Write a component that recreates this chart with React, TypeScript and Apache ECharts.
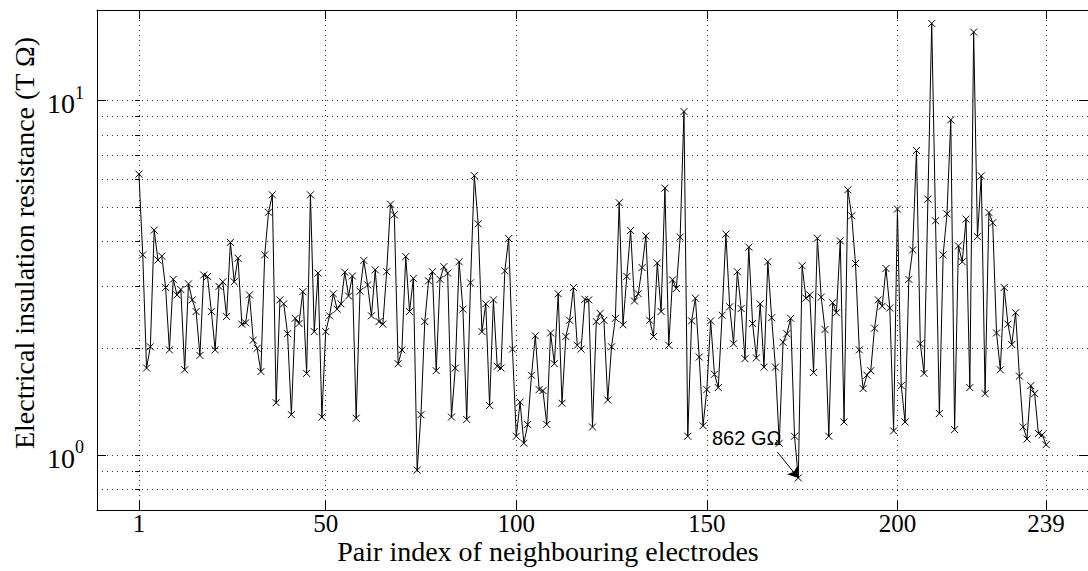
import React, { useEffect, useRef } from "react";
import * as echarts from "echarts";

// Pair index 1..239 -> insulation resistance in TΩ
const resistance: number[] = [
  6.2, 3.67, 1.76, 2.02, 4.31, 3.55, 3.64, 2.97, 1.98, 3.13,
  2.83, 2.93, 1.74, 3.04, 2.74, 2.54, 1.91, 3.22, 3.19, 2.54,
  1.98, 2.99, 3.08, 2.46, 3.98, 3.08, 3.59, 2.34, 2.36, 2.83,
  2.11, 2.0, 1.72, 3.67, 4.84, 5.42, 1.405, 2.74, 2.67, 2.2,
  1.3, 2.43, 2.35, 2.89, 1.7, 5.42, 2.23, 3.26, 1.28, 2.23,
  2.47, 2.85, 2.58, 2.67, 3.28, 2.81, 3.2, 1.27, 2.9, 3.54,
  3.02, 2.47, 3.33, 2.38, 2.34, 3.29, 5.1, 4.76, 1.81, 1.98,
  3.63, 2.54, 3.15, 0.907, 1.3, 2.38, 3.1, 3.29, 1.73, 3.13,
  3.4, 3.26, 1.28, 1.76, 3.51, 2.58, 1.26, 3.06, 6.14, 4.49,
  2.23, 2.67, 1.38, 2.74, 1.78, 1.76, 3.31, 4.08, 1.99, 1.13,
  1.41, 1.08, 1.22, 1.68, 2.17, 1.53, 1.52, 1.22, 2.21, 1.81,
  2.85, 1.4, 2.16, 2.4, 2.97, 2.04, 1.99, 2.75, 2.74, 1.2,
  2.38, 2.51, 2.4, 1.43, 2.02, 2.43, 5.15, 2.33, 3.19, 4.3,
  2.72, 2.85, 3.38, 4.15, 2.4, 2.16, 3.48, 2.54, 5.66, 2.04,
  3.12, 2.95, 4.12, 9.31, 1.13, 2.39, 2.77, 1.89, 1.21, 1.53,
  2.39, 1.69, 1.55, 2.48, 4.2, 2.62, 2.06, 3.29, 2.59, 1.87,
  3.86, 2.35, 1.88, 2.67, 1.77, 3.51, 2.44, 1.77, 1.08, 2.08,
  2.2, 2.43, 1.13, 0.862, 3.42, 2.77, 2.83, 1.71, 4.09, 2.79,
  2.26, 1.13, 2.69, 2.52, 4.02, 1.24, 5.6, 4.73, 3.47, 1.98,
  1.54, 1.68, 1.73, 2.28, 2.74, 2.63, 3.36, 2.6, 1.17, 4.94,
  1.57, 1.24, 3.13, 3.79, 7.23, 2.06, 1.7, 5.27, 16.5, 4.58,
  1.31, 3.67, 4.79, 8.82, 1.18, 3.89, 3.51, 4.63, 1.55, 15.6,
  4.13, 6.13, 1.49, 4.83, 4.52, 2.21, 1.74, 2.97, 2.34, 2.05,
  2.52, 1.67, 1.2, 1.11, 1.57, 1.49, 1.15, 1.14, 1.07,
];

const xTicks: number[] = [1, 50, 100, 150, 200, 239];
const yMajorTicks: number[] = [1, 10];
const yGridValues: number[] = [0.8, 0.9, 1, 2, 3, 4, 5, 6, 7, 8, 9, 10];
const minIndex = 174;
const minLabel = "862 GΩ";
const xTitle = "Pair index of neighbouring electrodes";
const yTitle = "Electrical insulation resistance (T Ω)";

const SERIF = "'Liberation Serif', 'DejaVu Serif', serif";
const SANS = "'Liberation Sans', Arial, sans-serif";

export default function App() {
  const ref = useRef<HTMLDivElement>(null);

  useEffect(() => {
    if (!ref.current) return;
    const chart = echarts.init(ref.current, undefined, { renderer: "svg" });
    const data = resistance.map((v, i) => [i + 1, v]);
    const dotted = { color: "#333", width: 1, type: [1, 4] as number[] };

    const yBase = { type: "log" as const, logBase: 10, min: 0.7, max: 18 };

    chart.setOption({
      animation: false,
      backgroundColor: "#fff",
      grid: { left: 97, right: -6, top: 10, bottom: 61, containLabel: false },
      xAxis: [
        {
          type: "value",
          position: "bottom",
          min: -10,
          max: 250,
          axisLine: { show: true, lineStyle: { color: "#000", width: 1 } },
          axisTick: { show: true, inside: true, length: 9, customValues: xTicks, lineStyle: { color: "#000" } },
          axisLabel: { show: true, customValues: xTicks, color: "#000", fontFamily: SERIF, fontSize: 25, margin: 1 },
          splitLine: { show: true, lineStyle: dotted },
        },
        {
          type: "value",
          position: "top",
          min: -10,
          max: 250,
          axisLine: { show: true, onZero: false, lineStyle: { color: "#000", width: 1 } },
          axisTick: { show: true, inside: true, length: 9, customValues: xTicks, lineStyle: { color: "#000" } },
          axisLabel: { show: false },
          splitLine: { show: false },
        },
      ],
      yAxis: [
        {
          ...yBase,
          position: "left",
          axisLine: { show: true, onZero: false, lineStyle: { color: "#000", width: 1 } },
          axisTick: { show: true, inside: true, length: 9, customValues: yMajorTicks, lineStyle: { color: "#000" } },
          axisLabel: {
            show: true,
            customValues: yMajorTicks,
            margin: 13,
            formatter: (v: number) => `{b|10}{s|${Math.round(Math.log10(v))}}`,
            rich: {
              b: { fontFamily: SERIF, fontSize: 28, color: "#000", verticalAlign: "bottom", lineHeight: 34 },
              s: { fontFamily: SERIF, fontSize: 18, color: "#000", verticalAlign: "top", lineHeight: 18 },
            },
          },
          splitLine: { show: false },
        },
        {
          ...yBase,
          position: "left",
          axisLine: { show: false },
          axisTick: { show: true, inside: true, length: 5, customValues: yGridValues, lineStyle: { color: "#000" } },
          axisLabel: { show: false },
          splitLine: { show: true, lineStyle: dotted },
        },
        {
          ...yBase,
          position: "right",
          axisLine: { show: true, onZero: false, lineStyle: { color: "#000", width: 1 } },
          axisTick: { show: true, inside: true, length: 9, customValues: yMajorTicks, lineStyle: { color: "#000" } },
          axisLabel: { show: false },
          splitLine: { show: false },
        },
      ],
      series: [
        {
          type: "line",
          xAxisIndex: 0,
          yAxisIndex: 0,
          data,
          showSymbol: true,
          showAllSymbol: true,
          symbol: "path://M0,0L10,10M10,0L0,10",
          symbolSize: 7,
          itemStyle: { color: "#000", borderColor: "#000", borderWidth: 1 },
          lineStyle: { color: "#000", width: 1 },
          silent: true,
          markLine: {
            silent: true,
            symbol: ["none", "arrow"],
            symbolSize: 10,
            label: { show: false },
            lineStyle: { color: "#000", width: 1, type: "solid" },
            itemStyle: { color: "#000" },
            data: [[{ coord: [168.5, 1.02] }, { coord: [minIndex, resistance[minIndex - 1]] }]],
          },
        },
      ],
      graphic: [
        {
          type: "text",
          x: 712,
          y: 438,
          style: {
            text: minLabel,
            font: `20px ${SANS}`,
            fill: "#000",
            textAlign: "left",
            align: "left",
            textVerticalAlign: "middle",
            verticalAlign: "middle",
          },
        },
        {
          type: "text",
          x: 548,
          y: 551,
          style: {
            text: xTitle,
            font: `28px ${SERIF}`,
            fill: "#000",
            textAlign: "center",
            align: "center",
            textVerticalAlign: "middle",
            verticalAlign: "middle",
          },
        },
        {
          type: "text",
          x: 24,
          y: 243,
          rotation: Math.PI / 2,
          style: {
            text: yTitle,
            font: `28px ${SERIF}`,
            fill: "#000",
            textAlign: "center",
            align: "center",
            textVerticalAlign: "middle",
            verticalAlign: "middle",
          },
        },
      ],
    });

    return () => chart.dispose();
  }, []);

  return (
    <div
      ref={ref}
      style={{ position: "absolute", left: 0, top: 0, width: 1088, height: 571, background: "#fff" }}
    />
  );
}
